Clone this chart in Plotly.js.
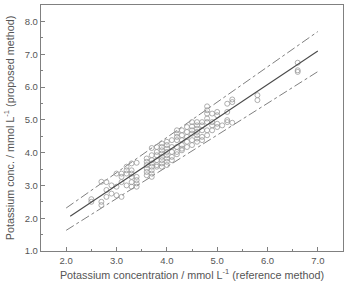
<!DOCTYPE html>
<html>
<head>
<meta charset="utf-8">
<script src="https://cdn.plot.ly/plotly-3.0.1.min.js"></script>
<style>html,body{margin:0;padding:0;background:#fff;}#chart{width:345px;height:283px;}</style>
</head>
<body>
<div id="chart"></div>
<script>
// Scatter data: reference method (x) vs proposed method (y)
const refX = [
  2.5,2.5,
  2.7,2.7,2.7,
  2.8,2.8,2.8,
  2.9,2.9,
  3.0,3.0,3.0,
  3.1,3.1,3.1,3.1,
  3.2,3.2,3.2,3.2,
  3.3,3.3,3.3,3.3,3.3,3.3,
  3.4,3.4,3.4,3.4,3.4,
  3.6,3.6,3.6,3.6,3.6,3.6,
  3.7,3.7,3.7,3.7,3.7,3.7,3.7,3.7,
  3.8,3.8,3.8,3.8,3.8,3.8,
  3.9,3.9,3.9,3.9,3.9,3.9,3.9,3.9,
  4.0,4.0,4.0,4.0,4.0,4.0,4.0,4.0,
  4.1,4.1,4.1,4.1,4.1,
  4.2,4.2,4.2,4.2,4.2,4.2,4.2,
  4.3,4.3,4.3,4.3,4.3,4.3,
  4.4,4.4,4.4,4.4,4.4,
  4.5,4.5,4.5,4.5,4.5,4.5,
  4.6,4.6,4.6,4.6,4.6,4.6,4.6,
  4.7,4.7,4.7,4.7,4.7,
  4.8,4.8,4.8,4.8,4.8,4.8,4.8,
  4.9,4.9,4.9,4.9,
  5.0,5.0,5.0,5.0,
  5.1,
  5.2,5.2,5.2,5.2,
  5.3,5.3,5.3,
  5.8,5.8,
  6.6,6.6,6.6
];
const propY = [
  2.58,2.50,
  3.11,2.50,2.40,
  3.10,2.86,2.65,
  3.00,2.75,
  3.36,2.96,2.70,
  3.36,3.26,3.10,2.65,
  3.57,3.46,3.36,3.00,
  3.67,3.46,3.36,3.26,3.10,2.96,
  3.69,3.26,3.16,3.06,2.96,
  3.82,3.72,3.62,3.51,3.41,3.31,
  4.14,3.92,3.77,3.67,3.57,3.46,3.36,3.26,
  4.17,4.02,3.92,3.77,3.62,3.57,
  4.28,4.17,4.07,3.97,3.87,3.77,3.67,3.57,
  4.33,4.23,4.12,4.02,3.92,3.82,3.72,3.62,
  4.38,4.17,4.02,3.87,3.77,
  4.68,4.58,4.48,4.38,4.17,4.02,3.95,
  4.68,4.53,4.38,4.23,4.12,4.07,
  4.78,4.63,4.48,4.33,4.17,
  4.93,4.80,4.68,4.58,4.38,4.23,
  4.93,4.83,4.73,4.63,4.53,4.43,4.33,
  4.93,4.83,4.68,4.48,4.38,
  5.41,5.29,5.19,5.04,4.93,4.68,4.53,
  5.19,4.93,4.83,4.68,
  5.24,5.14,4.88,4.78,
  4.83,
  5.49,5.24,4.99,4.93,
  5.62,5.54,4.91,
  5.75,5.60,
  6.74,6.51,6.46
];
// Regression line and prediction band endpoints
const fitX = [2.08, 7.0];
const fitY = [2.06, 7.10];
const upperX = [2.0, 7.0];
const upperY = [2.31, 7.69];
const lowerX = [2.0, 7.0];
const lowerY = [1.63, 6.47];
const xTickVals = [2,3,4,5,6,7];
const xTickText = ['2.0','3.0','4.0','5.0','6.0','7.0'];
const yTickVals = [1,2,3,4,5,6,7,8];
const yTickText = ['1.0','2.0','3.0','4.0','5.0','6.0','7.0','8.0'];

const traces = [
  {x: upperX, y: upperY, mode:'lines', line:{color:'#707070', width:0.9, dash:'dashdot'}, hoverinfo:'skip'},
  {x: lowerX, y: lowerY, mode:'lines', line:{color:'#707070', width:0.9, dash:'dashdot'}, hoverinfo:'skip'},
  {x: refX, y: propY, mode:'markers', marker:{symbol:'circle-open', size:5, color:'#999', line:{width:0.8, color:'#999'}}},
  {x: fitX, y: fitY, mode:'lines', line:{color:'#4a4a4a', width:1.1}, hoverinfo:'skip'}
];

const axisCommon = {
  showgrid:false, zeroline:false, showline:true, linecolor:'#808080', linewidth:1.2,
  mirror:true, ticks:'inside', ticklen:4, tickwidth:1, tickcolor:'#808080',
  tickfont:{family:'Liberation Sans, Arial, sans-serif', size:9.5, color:'#555'}
};

const layout = {
  width:345, height:283,
  margin:{l:41, r:2, t:5, b:32},
  showlegend:false,
  paper_bgcolor:'#fff', plot_bgcolor:'#fff',
  xaxis: Object.assign({}, axisCommon, {
    range:[1.5,7.5], tickvals:xTickVals, ticktext:xTickText,
    minor:{dtick:0.5, tick0:0, ticks:'inside', ticklen:2, tickcolor:'#808080', showgrid:false},
    title:{text:'Potassium concentration / mmol L<sup>-1</sup> (reference method)', standoff:6,
      font:{family:'Liberation Sans, Arial, sans-serif', size:10.8, color:'#555'}}
  }),
  yaxis: Object.assign({}, axisCommon, {
    range:[1.0,8.5], tickvals:yTickVals, ticktext:yTickText,
    minor:{dtick:0.5, tick0:0, ticks:'inside', ticklen:2, tickcolor:'#808080', showgrid:false},
    title:{text:'Potassium conc. / mmol L<sup>-1</sup> (proposed method)', standoff:8,
      font:{family:'Liberation Sans, Arial, sans-serif', size:10.8, color:'#555'}}
  })
};

Plotly.newPlot('chart', traces, layout, {staticPlot:true, displayModeBar:false});
</script>
</body>
</html>
